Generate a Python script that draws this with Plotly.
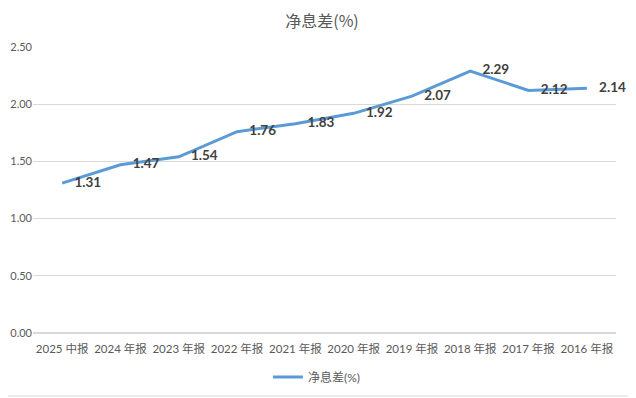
import plotly.graph_objects as go

categories = ["2025 中报", "2024 年报", "2023 年报", "2022 年报", "2021 年报",
              "2020 年报", "2019 年报", "2018 年报", "2017 年报", "2016 年报"]
nim = [1.31, 1.47, 1.54, 1.76, 1.83, 1.92, 2.07, 2.29, 2.12, 2.14]
y_ticks = [0, 0.5, 1.0, 1.5, 2.0, 2.5]
series_name = "净息差(%)"

fig = go.Figure()
fig.add_trace(go.Scatter(
    x=categories, y=nim, mode="lines+markers+text", name=series_name,
    line=dict(color="#5B9BD5", width=3),
    marker=dict(size=18, color="rgba(0,0,0,0)", line=dict(width=0)),
    text=[f"{v:.2f}" for v in nim], textposition="middle right",
    textfont=dict(family="Lato, Liberation Sans, sans-serif", size=13.5, color="#404040", weight="bold"),
    cliponaxis=False,
))
fig.update_layout(
    width=628, height=390,
    margin=dict(l=25, r=20, t=39, b=65, autoexpand=False),
    paper_bgcolor="white", plot_bgcolor="white",
    title=dict(text=series_name, x=0.5, xanchor="center", y=0.966, yanchor="middle",
               font=dict(family="Noto Sans CJK SC", size=16, color="#595959")),
    font=dict(family="Lato, Noto Sans CJK SC, sans-serif", size=11, color="#595959"),
    showlegend=True,
    legend=dict(orientation="h", x=0.487, xanchor="center", y=-0.154, yanchor="middle",
                font=dict(family="Lato, Noto Sans CJK SC", size=12, color="#595959")),
    xaxis=dict(type="category", range=[-0.5, 9.5], showgrid=False, showline=False,
               ticks="", ticklabelstandoff=7, tickfont=dict(size=11.5, color="#595959")),
    yaxis=dict(range=[0, 2.5], tickvals=y_ticks, tickformat=".2f", showgrid=True,
               gridcolor="#D9D9D9", gridwidth=1, zeroline=True, zerolinecolor="#D9D9D9",
               showline=False, ticks="", tickfont=dict(size=11, color="#595959")),
    shapes=[
        dict(type="line", xref="paper", yref="paper", x0=1.0317, x1=1.0317,
             y0=-0.2203, y1=1 + 39/286, line=dict(color="#D9D9D9", width=1)),
        dict(type="line", xref="paper", yref="paper", x0=-25/583, x1=1.0317,
             y0=-0.2203, y1=-0.2203, line=dict(color="#D9D9D9", width=1)),
    ],
)
fig.write_html("out.html")
